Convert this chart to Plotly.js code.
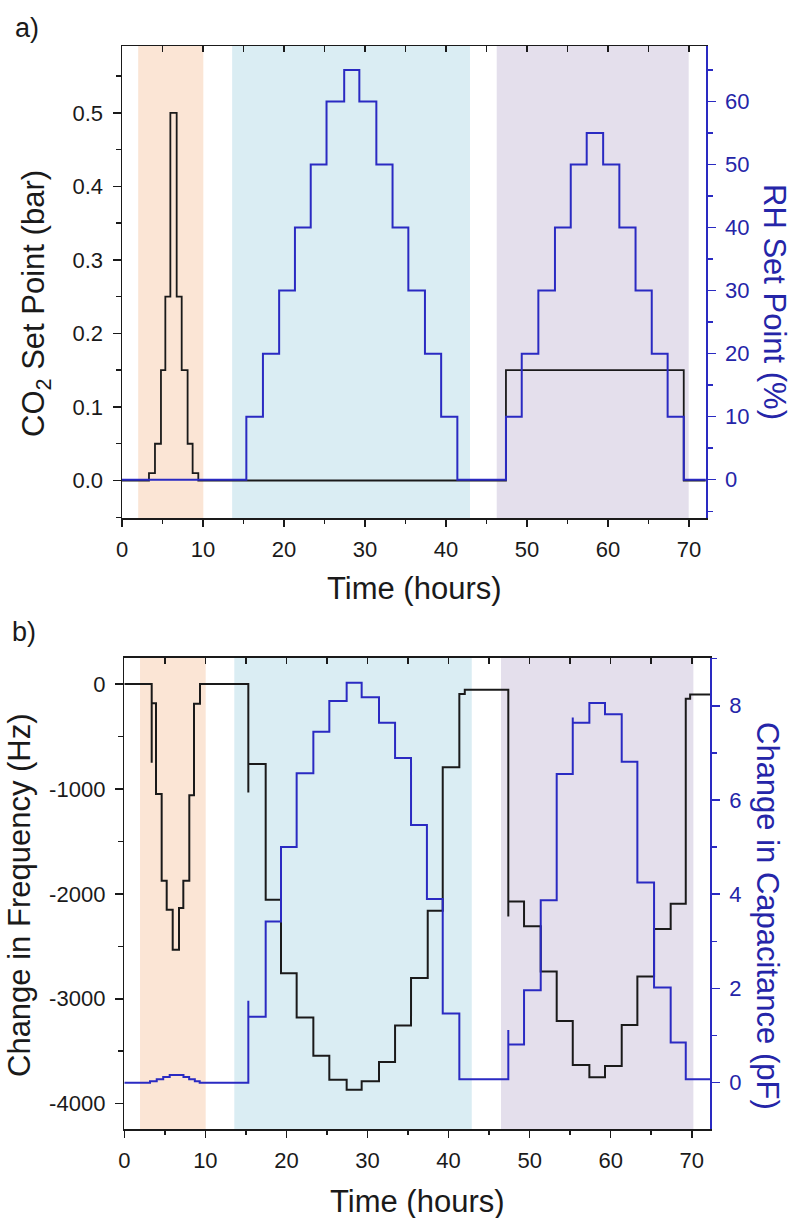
<!DOCTYPE html>
<html>
<head>
<meta charset="utf-8">
<script src="https://cdn.plot.ly/plotly-3.0.1.min.js"></script>
<style>html,body{margin:0;padding:0;background:#fff;}#chart{width:792px;height:1218px;}</style>
</head>
<body>
<div id="chart"></div>
<script>
// ---------- Panel a: set points ----------
const co2Time  = [0, 3.33, 4.07, 4.81, 5.35, 5.97, 6.75, 7.37, 8.10, 8.72, 9.42, 47.4, 69.35, 72.1];
const co2Bar   = [0, 0.01, 0.05, 0.15, 0.25, 0.50, 0.25, 0.15, 0.05, 0.01, 0,    0.15, 0,     0];

const rhTime   = [0, 15.35, 17.4, 19.4, 21.35, 23.3, 25.25, 27.43, 29.3, 31.4, 33.4, 35.35, 37.4, 39.4, 41.4,
                  47.4, 49.35, 51.4, 53.45, 55.4, 57.37, 59.4, 61.4, 63.4, 65.4, 67.36, 69.35, 72.1];
const rhPct    = [0, 10, 20, 30, 40, 50, 60, 65, 60, 50, 40, 30, 20, 10, 0,
                  10, 20, 30, 40, 50, 55, 50, 40, 30, 20, 10, 0, 0];

// ---------- Panel b: measured response ----------
const freqTime = [0, 3.38, 3.38, 3.91, 4.61, 5.23, 5.97, 6.75, 7.28, 8.02, 8.60, 9.34,
                  15.30, 15.30, 17.44, 19.33, 21.26, 23.32, 25.29, 27.43, 29.28, 31.42, 33.40, 35.37, 37.43, 39.28, 41.33, 42.0,
                  47.37, 47.37, 49.31, 51.37, 53.34, 55.32, 57.37, 59.30, 61.36, 63.29, 65.35, 67.40, 69.26, 69.8, 72.3];
const freqHz   = [0, -750, -184, -1048, -1876, -2152, -2533, -2135, -1876, -1060, -190, 0,
                  -1035, -762, -2057, -2756, -3178, -3543, -3771, -3867, -3787, -3603, -3254, -2803, -2162, -794, -95, -55,
                  -2216, -2073, -2308, -2740, -3211, -3632, -3749, -3640, -3250, -2787, -2336, -2095, -140, -100, -100];

const capTime  = [0, 3.17, 4.0, 4.8, 5.6, 7.3, 8.0, 8.7, 9.3,
                  15.30, 15.30, 17.44, 19.33, 21.26, 23.32, 25.29, 27.43, 29.28, 31.42, 33.40, 35.37, 37.33, 39.28, 41.33,
                  47.37, 47.37, 49.31, 51.37, 53.34, 55.32, 55.32, 57.37, 59.30, 61.36, 63.29, 65.35, 67.40, 69.26, 72.3];
const capPF    = [0, 0.03, 0.07, 0.12, 0.16, 0.12, 0.07, 0.03, 0,
                  1.74, 1.40, 3.42, 5.00, 6.57, 7.45, 8.10, 8.49, 8.18, 7.64, 6.89, 5.47, 3.90, 1.47, 0.07,
                  1.12, 0.81, 1.96, 3.87, 6.55, 7.75, 7.64, 8.06, 7.82, 6.81, 4.25, 2.02, 0.85, 0.07, 0.07];

// shaded experiment windows (hours)
const shadeStartA = [2.0, 13.6, 46.26];
const shadeEndA   = [10.04, 42.96, 69.96];
const shadeStartB = [1.94, 13.57, 46.47];
const shadeEndB   = [10.04, 42.86, 70.2];
const shadeColors = ['rgb(251,229,213)', 'rgb(218,237,243)', 'rgb(228,223,236)'];

const freqTickVals = [-4000, -3000, -2000, -1000, 0];
const freqTickText = ['-4000', '-3000', '-2000', '-1000', '0'];

// ---------- styling ----------
const FONT = 'Liberation Sans, Arial, Helvetica, sans-serif';
const BLACK = '#1a1a1a';
const BLUE = '#2a2ac2';
const BLUE_TXT = '#2525a8';
const W = 792, H = 1218;
const px = v => v / W;
const py = v => 1 - v / H;

const tickFont = c => ({family: FONT, size: 22, color: c});

const traces = [
  {x: co2Time, y: co2Bar, xaxis: 'x', yaxis: 'y', mode: 'lines',
   line: {shape: 'hv', color: BLACK, width: 1.8}, showlegend: false, hoverinfo: 'skip'},
  {x: [], y: [], xaxis: 'x3', yaxis: 'y', mode: 'lines', showlegend: false, hoverinfo: 'skip'},
  {x: rhTime, y: rhPct, xaxis: 'x', yaxis: 'y2', mode: 'lines',
   line: {shape: 'hv', color: BLUE, width: 2}, showlegend: false, hoverinfo: 'skip'},
  {x: freqTime, y: freqHz, xaxis: 'x2', yaxis: 'y3', mode: 'lines',
   line: {shape: 'hv', color: BLACK, width: 2}, showlegend: false, hoverinfo: 'skip'},
  {x: [], y: [], xaxis: 'x4', yaxis: 'y3', mode: 'lines', showlegend: false, hoverinfo: 'skip'},
  {x: capTime, y: capPF, xaxis: 'x2', yaxis: 'y4', mode: 'lines',
   line: {shape: 'hv', color: BLUE, width: 2}, showlegend: false, hoverinfo: 'skip'}
];

const shapes = [];
shadeStartA.forEach((s, i) => shapes.push({type: 'rect', xref: 'x', yref: 'y domain', x0: s, x1: shadeEndA[i], y0: 0, y1: 1,
  fillcolor: shadeColors[i], line: {width: 0}, layer: 'below'}));
shadeStartB.forEach((s, i) => shapes.push({type: 'rect', xref: 'x2', yref: 'y3 domain', x0: s, x1: shadeEndB[i], y0: 0, y1: 1,
  fillcolor: shadeColors[i], line: {width: 0}, layer: 'below'}));

const domA = [px(122), px(705.7)];
const domB = [px(124.3), px(710)];
const domAy = [py(518), py(46)];
const domBy = [py(1129.3), py(657.7)];
const rangeA = [0, 72.06];
const rangeB = [0, 72.25];

const baseX = (dom, range, anchor) => ({
  domain: dom, range: range, anchor: anchor, showgrid: false, zeroline: false,
  showline: true, linecolor: BLACK, linewidth: 1.5,
  ticks: 'outside', ticklen: 7, tickwidth: 1.5, tickcolor: BLACK,
  tickmode: 'linear', tick0: 0, dtick: 10, ticklabelstandoff: 4,
  minor: {ticks: 'outside', dtick: 5, tick0: 0, ticklen: 4, tickwidth: 1.5, tickcolor: BLACK},
  tickfont: tickFont(BLACK)
});
const topX = (range, overlay, anchor) => ({
  overlaying: overlay, side: 'top', anchor: anchor, range: range, showgrid: false, zeroline: false,
  showline: true, linecolor: BLACK, linewidth: 1.5,
  ticks: 'inside', ticklen: 6, tickwidth: 1.5, tickcolor: BLACK,
  tickmode: 'linear', tick0: 0, dtick: 5, showticklabels: false
});

const ann = (text, x, y, angle, color, size) => ({
  text: text, xref: 'paper', yref: 'paper', x: px(x), y: py(y), xanchor: 'center', yanchor: 'middle',
  textangle: angle, showarrow: false, font: {family: FONT, size: size, color: color}
});

const layout = {
  width: W, height: H, margin: {l: 0, r: 0, t: 0, b: 0},
  paper_bgcolor: '#ffffff', plot_bgcolor: '#ffffff', showlegend: false,
  xaxis: baseX(domA, rangeA, 'y'),
  xaxis3: topX(rangeA, 'x', 'y'),
  yaxis: {
    domain: domAy, range: [-0.051, 0.591], anchor: 'x', showgrid: false, zeroline: false,
    showline: true, linecolor: BLACK, linewidth: 1.5,
    ticks: 'outside', ticklen: 8, tickwidth: 1.5, tickcolor: BLACK,
    tickmode: 'linear', tick0: 0, dtick: 0.1, tickformat: '.1f', ticklabelstandoff: 5,
    minor: {ticks: 'outside', dtick: 0.05, tick0: 0, ticklen: 5, tickwidth: 1.5, tickcolor: BLACK},
    tickfont: tickFont(BLACK)
  },
  yaxis2: {
    overlaying: 'y', side: 'right', anchor: 'x', range: [-6.07, 68.8], showgrid: false, zeroline: false,
    showline: true, linecolor: BLUE, linewidth: 1.8,
    ticks: 'outside', ticklen: 8, tickwidth: 1.5, tickcolor: BLUE,
    tickmode: 'linear', tick0: 0, dtick: 10, ticklabelstandoff: 5,
    minor: {ticks: 'outside', dtick: 5, tick0: 0, ticklen: 5, tickwidth: 1.5, tickcolor: BLUE},
    tickfont: tickFont(BLUE_TXT)
  },
  xaxis2: baseX(domB, rangeB, 'y3'),
  xaxis4: topX(rangeB, 'x2', 'y3'),
  yaxis3: {
    domain: domBy, range: [-4244, 250], anchor: 'x2', showgrid: false, zeroline: false,
    showline: true, linecolor: BLACK, linewidth: 1.5,
    ticks: 'outside', ticklen: 8, tickwidth: 1.5, tickcolor: BLACK,
    tickmode: 'array', tickvals: freqTickVals, ticktext: freqTickText, ticklabelstandoff: 5,
    minor: {ticks: 'outside', tickmode: 'linear', dtick: 500, tick0: 0, ticklen: 5, tickwidth: 1.5, tickcolor: BLACK},
    tickfont: tickFont(BLACK)
  },
  yaxis4: {
    overlaying: 'y3', side: 'right', anchor: 'x2', range: [-0.99, 9.02], showgrid: false, zeroline: false,
    showline: true, linecolor: BLUE, linewidth: 1.8,
    ticks: 'outside', ticklen: 8, tickwidth: 1.5, tickcolor: BLUE,
    tickmode: 'linear', tick0: 0, dtick: 2, ticklabelstandoff: 5,
    minor: {ticks: 'outside', dtick: 1, tick0: 0, ticklen: 5, tickwidth: 1.5, tickcolor: BLUE},
    tickfont: tickFont(BLUE_TXT)
  },
  shapes: shapes,
  annotations: [
    ann('a)', 27, 28, 0, BLACK, 27),
    ann('b)', 24, 632, 0, BLACK, 27),
    ann('Time (hours)', 414, 588, 0, BLACK, 31),
    ann('CO<sub>2</sub> Set Point (bar)', 36, 304, -90, BLACK, 31),
    ann('RH Set Point (%)', 775, 302, 90, BLUE_TXT, 31),
    ann('Time (hours)', 417, 1201, 0, BLACK, 31),
    ann('Change in Frequency (Hz)', 19, 895, -90, BLACK, 31),
    ann('Change in Capacitance (pF)', 768, 916, 90, BLUE_TXT, 31)
  ]
};

Plotly.newPlot('chart', traces, layout, {staticPlot: true, displayModeBar: false});
</script>
</body>
</html>
